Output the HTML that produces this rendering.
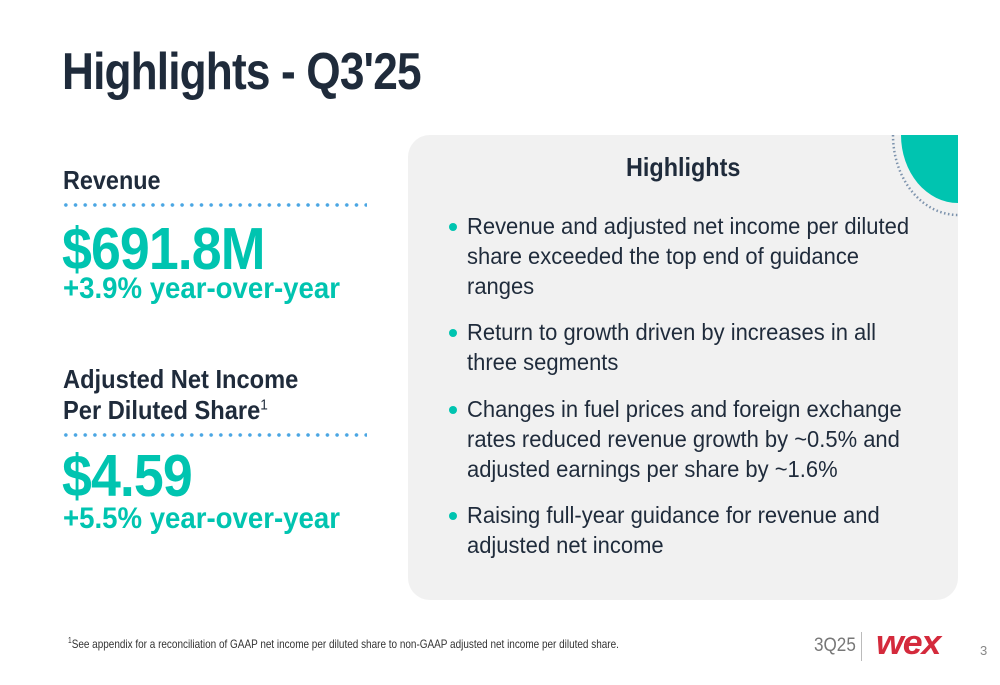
<!DOCTYPE html>
<html><head><meta charset="utf-8"><style>
body{margin:0;width:1000px;height:685px;background:#fff;position:relative;overflow:hidden;font-family:"Liberation Sans",sans-serif}
.a{position:absolute;white-space:nowrap;transform-origin:0 0}
.b{font-weight:bold}
.navy{color:#1f2b3b}.teal{color:#00c4b0}
.dots{position:absolute;height:4px;background:radial-gradient(circle,#4aa6e3 1.6px,transparent 2px) 0 0/9.7px 4px repeat-x}
.li{position:absolute;left:467px;font-size:23px;color:#1f2b3b;line-height:30px;transform:scaleX(.955);transform-origin:0 0;white-space:nowrap}
.bul{position:absolute;left:449px;width:8px;height:8px;border-radius:50%;background:#00c4b0}
</style></head><body>
<div class="a b navy" style="left:62px;top:42px;font-size:52px;letter-spacing:-1px;transform:scaleX(.85)">Highlights - Q3'25</div>

<div class="a b navy" style="left:63px;top:165px;font-size:26px;transform:scaleX(.9)">Revenue</div>
<div class="dots" style="left:61px;top:203px;width:306px"></div>
<div class="a b teal" style="left:62px;top:215px;font-size:59px;letter-spacing:-1px;transform:scaleX(.91)">$691.8M</div>
<div class="a b teal" style="left:63px;top:272px;font-size:30px;transform:scaleX(.92)">+3.9% year-over-year</div>

<div class="a b navy" style="left:63px;top:364px;font-size:26px;line-height:31px;transform:scaleX(.91)">Adjusted Net Income<br>Per Diluted Share<sup style="font-weight:normal;font-size:15px;line-height:0">1</sup></div>
<div class="dots" style="left:61px;top:433px;width:306px"></div>
<div class="a b teal" style="left:62px;top:442px;font-size:59px;letter-spacing:-1px;transform:scaleX(.91)">$4.59</div>
<div class="a b teal" style="left:63px;top:502px;font-size:30px;transform:scaleX(.92)">+5.5% year-over-year</div>

<div style="position:absolute;left:408px;top:135px;width:550px;height:465px;background:#f1f1f1;border-radius:22px 0 22px 22px;overflow:hidden">
<svg width="550" height="465" style="position:absolute;left:0;top:0">
<path d="M493 0 A57 68 0 0 0 550 68 L550 0Z" fill="#00c4b0"/>
<path d="M485 0 A65 80 0 0 0 550 80" fill="none" stroke="#7d93ad" stroke-width="2.5" stroke-dasharray="1.5 2.5"/>
</svg>
<div class="a b navy" style="left:218px;top:17px;font-size:26px;transform:scaleX(.9)">Highlights</div>
</div>

<div class="bul" style="top:223px"></div>
<div class="li" style="top:211px">Revenue and adjusted net income per diluted<br>share exceeded the top end of guidance<br>ranges</div>
<div class="bul" style="top:329px"></div>
<div class="li" style="top:317px">Return to growth driven by increases in all<br>three segments</div>
<div class="bul" style="top:406px"></div>
<div class="li" style="top:394px">Changes in fuel prices and foreign exchange<br>rates reduced revenue growth by ~0.5% and<br>adjusted earnings per share by ~1.6%</div>
<div class="bul" style="top:512px"></div>
<div class="li" style="top:500px">Raising full-year guidance for revenue and<br>adjusted net income</div>

<div class="a" style="left:68px;top:636px;font-size:12px;color:#333;transform:scaleX(.83)"><sup style="font-size:8px">1</sup>See appendix for a reconciliation of GAAP net income per diluted share to non-GAAP adjusted net income per diluted share.</div>
<div class="a" style="left:814px;top:635px;font-size:19px;color:#777;transform:scaleX(.9)">3Q25</div>
<div style="position:absolute;left:861px;top:632px;width:1px;height:29px;background:#bbb"></div>
<div class="a b" style="left:876px;top:624px;font-size:34px;color:#d42a3c;font-style:italic;letter-spacing:-1px;transform:scaleX(1.05)">wex</div>
<div class="a" style="left:980px;top:643px;font-size:13px;color:#888">3</div>
</body></html>
